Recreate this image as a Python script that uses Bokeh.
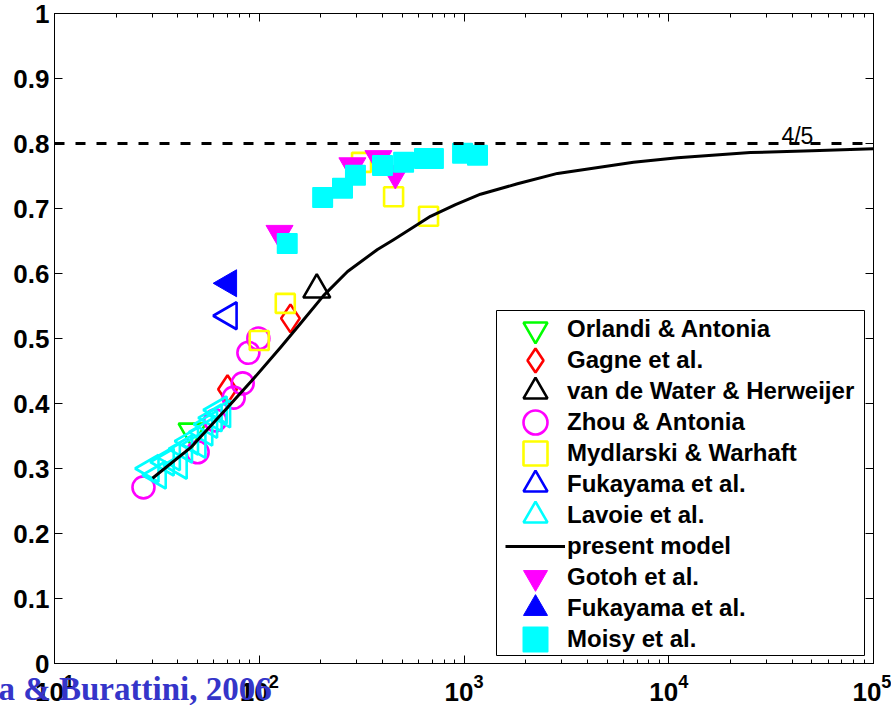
import math
from bokeh.plotting import figure
from bokeh.models import (Range1d, LinearAxis, LogAxis, FixedTicker, Legend, LegendItem,
                          Span, Label, BoxAnnotation, CustomJSTickFormatter, Title)
from bokeh.embed import file_html
from bokeh.resources import INLINE

# ---------------- data (R_lambda, -S) ----------------
orlandi_re = [47]
orlandi_s = [0.357]
gagne_re = [70, 142]
gagne_s = [0.422, 0.531]
vdw_re = [191]
vdw_s = [0.575]
zhou_re = [27.2, 50, 61, 75, 83, 88.5, 99]
zhou_s = [0.271, 0.325, 0.374, 0.409, 0.431, 0.478, 0.500]
myd_re = [100, 134, 316, 453, 671]
myd_s = [0.497, 0.554, 0.771, 0.718, 0.688]
fuk_open_re = [71]
fuk_open_s = [0.535]
lavoie_re = [29.5, 32, 35, 37.5, 40.5, 43, 46, 50, 54, 57, 60, 63.5, 66]
lavoie_s = [0.300, 0.290, 0.310, 0.318, 0.305, 0.330, 0.342, 0.337, 0.356, 0.368, 0.378, 0.390, 0.384]
model_re = [30.1, 46.2, 70, 93.7, 127, 159, 206, 270, 378, 453, 686, 909, 1204, 1824, 2863,
            6730, 11040, 25060, 50000, 100000]
model_s = [0.285, 0.332, 0.394, 0.438, 0.486, 0.523, 0.566, 0.603, 0.637, 0.652, 0.688, 0.706,
           0.722, 0.738, 0.754, 0.771, 0.778, 0.786, 0.789, 0.792]
gotoh_re = [125.6, 285, 382, 462]
gotoh_s = [0.662, 0.766, 0.777, 0.754]
fuk_fill_re = [71]
fuk_fill_s = [0.585]
moisy_re = [137, 204, 255, 295, 400, 507, 641, 709, 984, 1164]
moisy_s = [0.646, 0.717, 0.731, 0.751, 0.766, 0.771, 0.777, 0.777, 0.785, 0.782]

asymptote = 0.8
asymptote_label = "4/5"
y_ticks = [0, 0.1, 0.2, 0.3, 0.4, 0.5, 0.6, 0.7, 0.8, 0.9, 1.0]
x_ticks = [10, 100, 1000, 10000, 100000]
credit = "a & Burattini, 2006"

FONT = "Liberation Sans"

p = figure(width=891, height=705, x_axis_type="log",
           x_range=Range1d(10, 1e5), y_range=Range1d(0, 1),
           output_backend="svg", toolbar_location=None,
           min_border_left=54, min_border_right=18, min_border_top=13, min_border_bottom=42)
p.xgrid.visible = False
p.ygrid.visible = False
p.outline_line_color = "black"
p.outline_line_width = 1
p.background_fill_color = "white"
p.border_fill_color = "white"

minor = [m * d for d in [10, 100, 1000, 10000] for m in range(2, 10)]
xt = FixedTicker(ticks=x_ticks, minor_ticks=minor)
yt = FixedTicker(ticks=y_ticks, minor_ticks=[])


def style_axis(ax, labels=True):
    ax.major_tick_in = 8
    ax.major_tick_out = 0
    ax.minor_tick_in = 4
    ax.minor_tick_out = 0
    ax.axis_line_color = "black"
    ax.major_tick_line_color = "black"
    ax.minor_tick_line_color = "black"
    if labels:
        ax.major_label_text_font = FONT
        ax.major_label_text_font_style = "bold"
        ax.major_label_text_font_size = "26px"
        ax.major_label_text_color = "black"
    else:
        ax.formatter = CustomJSTickFormatter(code="return ''")
        ax.major_label_text_font_size = "1px"
        ax.major_label_standoff = 0


xa = p.xaxis[0]
xa.ticker = xt
style_axis(xa)
xa.major_label_standoff = 10

ya = p.yaxis[0]
ya.ticker = yt
style_axis(ya)
ya.major_label_standoff = 5
ya.major_label_overrides = {0: "0", 1: "1"}

top_ax = LogAxis(ticker=xt)
style_axis(top_ax, labels=False)
p.add_layout(top_ax, "above")
right_ax = LinearAxis(ticker=yt)
style_axis(right_ax, labels=False)
p.add_layout(right_ax, "right")

# asymptote
p.add_layout(Span(location=asymptote, dimension="width", line_color="black",
                  line_width=3, line_dash="10 11"))
p.add_layout(Label(x=42500, y=0.812, text=asymptote_label, text_align="center",
                   text_baseline="alphabetic", text_font=FONT, text_font_size="23px",
                   text_color="black"))

LW = 2.6
r_orl = p.scatter(orlandi_re, orlandi_s, marker="inverted_triangle", size=27,
                  fill_color=None, line_color="#00ff00", line_width=LW)
r_gag = p.scatter(gagne_re, gagne_s, marker="diamond", size=28,
                  fill_color=None, line_color="#ff0000", line_width=LW)
r_vdw = p.scatter(vdw_re, vdw_s, marker="triangle", size=27,
                  fill_color=None, line_color="black", line_width=LW)
r_zho = p.scatter(zhou_re, zhou_s, marker="circle", size=22,
                  fill_color=None, line_color="#ff00ff", line_width=LW)
r_myd = p.scatter(myd_re, myd_s, marker="square", size=19,
                  fill_color=None, line_color="#ffff00", line_width=LW)
r_fko = p.scatter(fuk_open_re, fuk_open_s, marker="triangle", angle=math.pi / 2, size=27,
                  fill_color=None, line_color="#0000ff", line_width=LW)
r_lav = p.scatter(lavoie_re, lavoie_s, marker="triangle", angle=math.pi / 2, size=27,
                  fill_color=None, line_color="#00ffff", line_width=LW)
r_mod = p.line(model_re, model_s, line_color="black", line_width=3, line_join="round")
r_got = p.scatter(gotoh_re, gotoh_s, marker="inverted_triangle", size=27,
                  fill_color="#ff00ff", line_color="#ff00ff", line_width=1)
r_fkf = p.scatter(fuk_fill_re, fuk_fill_s, marker="triangle", angle=math.pi / 2, size=27,
                  fill_color="#0000ff", line_color="#0000ff", line_width=1)
r_moi = p.scatter(moisy_re, moisy_s, marker="square", size=19,
                  fill_color="#00ffff", line_color="#00ffff", line_width=2, line_join="round")

# legend frame
p.add_layout(BoxAnnotation(left=442, right=810, bottom=8, top=353,
                           left_units="screen", right_units="screen",
                           bottom_units="screen", top_units="screen",
                           fill_color="white", fill_alpha=1.0,
                           line_color="black", line_width=1, line_alpha=1.0))

entries = [
    ("Orlandi & Antonia", r_orl),
    ("Gagne et al.", r_gag),
    ("van de Water & Herweijer", r_vdw),
    ("Zhou & Antonia", r_zho),
    ("Mydlarski & Warhaft", r_myd),
    ("Fukayama et al.", r_fko),
    ("Lavoie et al.", r_lav),
    ("present model", r_mod),
    ("Gotoh et al.", r_got),
    ("Fukayama et al.", r_fkf),
    ("Moisy et al.", r_moi),
]


def make_legend(sub, loc):
    return Legend(items=[LegendItem(label=l, renderers=[r]) for l, r in sub],
                  location=loc, orientation="vertical",
                  glyph_width=60, glyph_height=62, spacing=0, padding=0, margin=0,
                  label_standoff=2, label_text_font=FONT, label_text_font_style="bold",
                  label_text_font_size="24px", label_text_color="black",
                  border_line_color=None, background_fill_alpha=0)


# two interleaved columns of entries give large legend symbols at the original pitch
p.add_layout(make_legend(entries[0::2], (451, -7)))
p.add_layout(make_legend(entries[1::2], (451, 24)))

# credit text below the axis (side-panel annotations are not clipped to the frame)
p.add_layout(Title(text=credit, align="left", offset=-56, vertical_align="top", standoff=-66,
                   text_font="Liberation Serif", text_font_style="bold",
                   text_font_size="33px", text_color="#3535c9"), "below")

open("out.html", "w").write(file_html(p, INLINE))
